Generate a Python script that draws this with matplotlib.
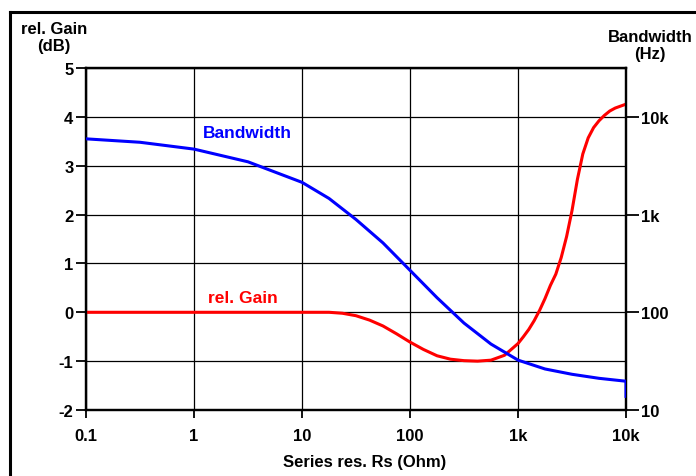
import matplotlib
matplotlib.use("Agg")
import matplotlib.pyplot as plt
from matplotlib.lines import Line2D
from matplotlib.ticker import FixedLocator, NullLocator

# ---- data ----
gain_x = [0.1, 1, 10, 17.8, 23.7, 31.6, 42.2, 56.2, 75, 100, 133, 178, 237,
          316, 422, 562, 750, 1000, 1122, 1259, 1413, 1585, 1778, 1995, 2239,
          2512, 2818, 3162, 3548, 3981, 4467, 5012, 5623, 6310, 7079, 7943,
          10000]
gain_db = [0, 0, 0, 0, -0.02, -0.07, -0.16, -0.28, -0.44, -0.61, -0.76, -0.89,
           -0.96, -0.99, -1.0, -0.98, -0.88, -0.64, -0.50, -0.35, -0.17, 0.04,
           0.28, 0.55, 0.78, 1.12, 1.55, 2.08, 2.72, 3.24, 3.57, 3.78, 3.92,
           4.03, 4.12, 4.18, 4.26]

bw_x = [0.1, 0.316, 1, 3.16, 10, 17.8, 31.6, 56.2, 100, 178, 316, 562, 1000,
        1778, 3162, 5623, 10000, 10000]
bw_hz = [5957, 5495, 4677, 3467, 2138, 1462, 891, 513, 269, 141, 77.6, 47.3,
         32.4, 26.3, 23.2, 21.1, 19.7, 13.8]

x_ticks = [0.1, 1, 10, 100, 1000, 10000]
x_labels = ["0.1", "1", "10", "100", "1k", "10k"]
gain_ticks = [-2, -1, 0, 1, 2, 3, 4, 5]
bw_ticks = [10, 100, 1000, 10000]
bw_labels = ["10", "100", "1k", "10k"]

plt.rcParams['font.family'] = ['Liberation Sans', 'DejaVu Sans']
plt.rcParams['font.weight'] = 'bold'
FS = 12

fig = plt.figure(figsize=(6.96, 4.77), dpi=100)
ax = fig.add_axes([86/696, 1-411/477, (626-86)/696, (411-69)/477])

ax.set_xscale('log')
ax.set_xlim(0.1, 10000)
ax.set_ylim(-2, 5)
ax.plot(gain_x, gain_db, color=(1, 0, 0), lw=2.2, zorder=3)

ax.xaxis.set_major_locator(FixedLocator(x_ticks))
ax.xaxis.set_minor_locator(NullLocator())
ax.set_xticklabels(x_labels, fontsize=FS, fontweight='bold')
ax.set_yticks(gain_ticks)
ax.set_yticklabels([str(v) for v in gain_ticks], fontsize=FS, fontweight='bold')
ax.grid(True, which='major', color='black', lw=0.9)
ax.tick_params(axis='y', direction='out', length=7, width=1.3, pad=2)
ax.tick_params(axis='x', direction='out', length=6, width=1.3, pad=7)
for s in ax.spines.values():
    s.set_linewidth(1.6)

ax2 = ax.twinx()
ax2.set_yscale('log')
ax2.set_ylim(10, 10**4.5)
ax2.plot(bw_x, bw_hz, color=(0, 0, 1), lw=2.2, zorder=3)
ax2.yaxis.set_major_locator(FixedLocator(bw_ticks))
ax2.yaxis.set_minor_locator(NullLocator())
ax2.set_yticklabels(bw_labels, fontsize=FS, fontweight='bold')
ax2.tick_params(axis='y', direction='out', length=9, width=1.3, pad=2)
for s in ax2.spines.values():
    s.set_linewidth(1.6)

ax.text(1.21, 3.69, "Bandwidth", color=(0, 0, 1), fontsize=12.5, fontweight='bold',
        va='center', ha='left')
ax.text(1.35, 0.31, "rel. Gain", color=(1, 0, 0), fontsize=12.5, fontweight='bold',
        va='center', ha='left')

fig.text(54/696, 1-38/477, "rel. Gain\n(dB)", fontsize=FS, fontweight='bold',
         ha='center', va='center', multialignment='center', linespacing=1.1)
fig.text(650/696, 1-46/477, "Bandwidth\n(Hz)", fontsize=FS, fontweight='bold',
         ha='center', va='center', multialignment='center', linespacing=1.1)
fig.text(365/696, 1-463/477, "Series res. Rs (Ohm)", fontsize=FS,
         fontweight='bold', ha='center', va='center')

# outer frame (left and top edges)
fig.add_artist(Line2D([10/696, 10/696], [0, 1-13/477], color='black', lw=2.2,
                      transform=fig.transFigure))
fig.add_artist(Line2D([10/696, 1], [1-13/477, 1-13/477], color='black', lw=2.2,
                      transform=fig.transFigure))

fig.savefig("out.png", dpi=100)
